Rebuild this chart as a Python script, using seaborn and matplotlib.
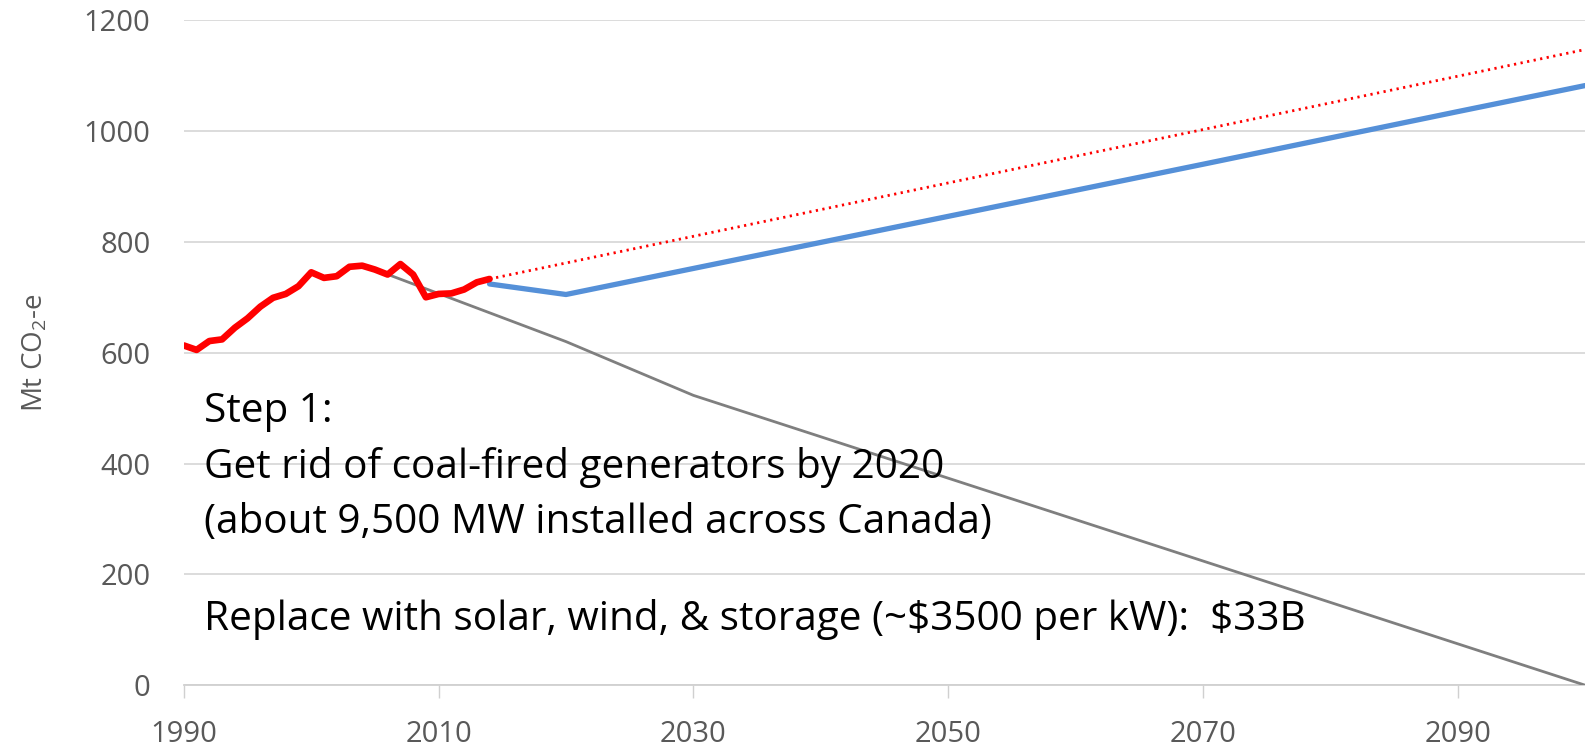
import matplotlib.pyplot as plt
import seaborn as sns
import numpy as np

#
# 01. Dados
#
anosHist = list(range(1990, 2015))
emissHist = [613, 605, 621, 624, 645, 662, 683, 699, 706, 720, 745, 735, 738,
             755, 757, 750, 741, 760, 741, 700, 706, 707, 714, 727, 733]

anosTend = [2014, 2100]
emissTend = [733, 1147]

anosAzul = [2014, 2020, 2030, 2050, 2070, 2090, 2100]
emissAzul = [724, 705, 752, 846, 940, 1035, 1082]

anosCinza = [2005, 2020, 2030, 2100]
emissCinza = [750, 620, 523, 0]

ticksX = [1990, 2010, 2030, 2050, 2070, 2090]
ticksY = [0, 200, 400, 600, 800, 1000, 1200]

textoPasso = ("Step 1:\n"
              "Get rid of coal-fired generators by 2020\n"
              "(about 9,500 MW installed across Canada)")
textoCusto = "Replace with solar, wind, & storage (~\\$3500 per kW):  \\$33B"

#
# 02. Tema
#
sns.set_theme(style="white")
plt.rcParams['font.family'] = ['Open Sans', 'DejaVu Sans']
plt.rcParams['mathtext.default'] = 'regular'

fig = plt.figure(figsize=(15.85, 7.48), dpi=100)
ax = fig.add_axes([0.116, 0.084, 0.884, 0.889])

#
# 03. Linhas
#
sns.lineplot(x=anosCinza, y=emissCinza, color="#7f7f7f", linewidth=2.0, ax=ax, zorder=3)
sns.lineplot(x=anosTend, y=emissTend, color="#ff0000", linewidth=2.0,
             linestyle=(0, (0.8, 1.6)), ax=ax, zorder=2)
sns.lineplot(x=anosAzul, y=emissAzul, color="#5590d8", linewidth=3.8, ax=ax, zorder=4)
sns.lineplot(x=anosHist, y=emissHist, color="#ff0000", linewidth=4.8, ax=ax, zorder=5)

#
# 04. Eixos
#
ax.set_xlim(1990, 2100)
ax.set_ylim(0, 1200)
ax.set_xticks(ticksX)
ax.set_yticks(ticksY)
ax.yaxis.grid(True, color="#d9d9d9", linewidth=1.3)
ax.set_axisbelow(True)
for lado in ['left', 'top', 'right']:
    ax.spines[lado].set_visible(False)
ax.spines['bottom'].set_color("#d0d0d0")
ax.spines['bottom'].set_linewidth(1.3)
ax.tick_params(axis='x', which='major', length=9, width=1.0, color="#d0d0d0",
               direction='out', bottom=True, pad=16, labelsize=21, labelcolor="#595959")
ax.tick_params(axis='y', length=0, pad=24, labelsize=21, labelcolor="#595959")

ax.set_ylabel("Mt CO$_2$-e", fontsize=20, color="#595959")
ax.yaxis.set_label_coords(-0.096, 0.5)
ax.set_xlabel("")

#
# 05. Texto
#
ax.text(1991.6, 530, textoPasso, fontsize=29.2, color="black", va='top', ha='left',
        linespacing=1.48)
ax.text(1991.6, 119, textoCusto, fontsize=29.2, color="black", va='center', ha='left')

fig.savefig("out.png", dpi=100)
